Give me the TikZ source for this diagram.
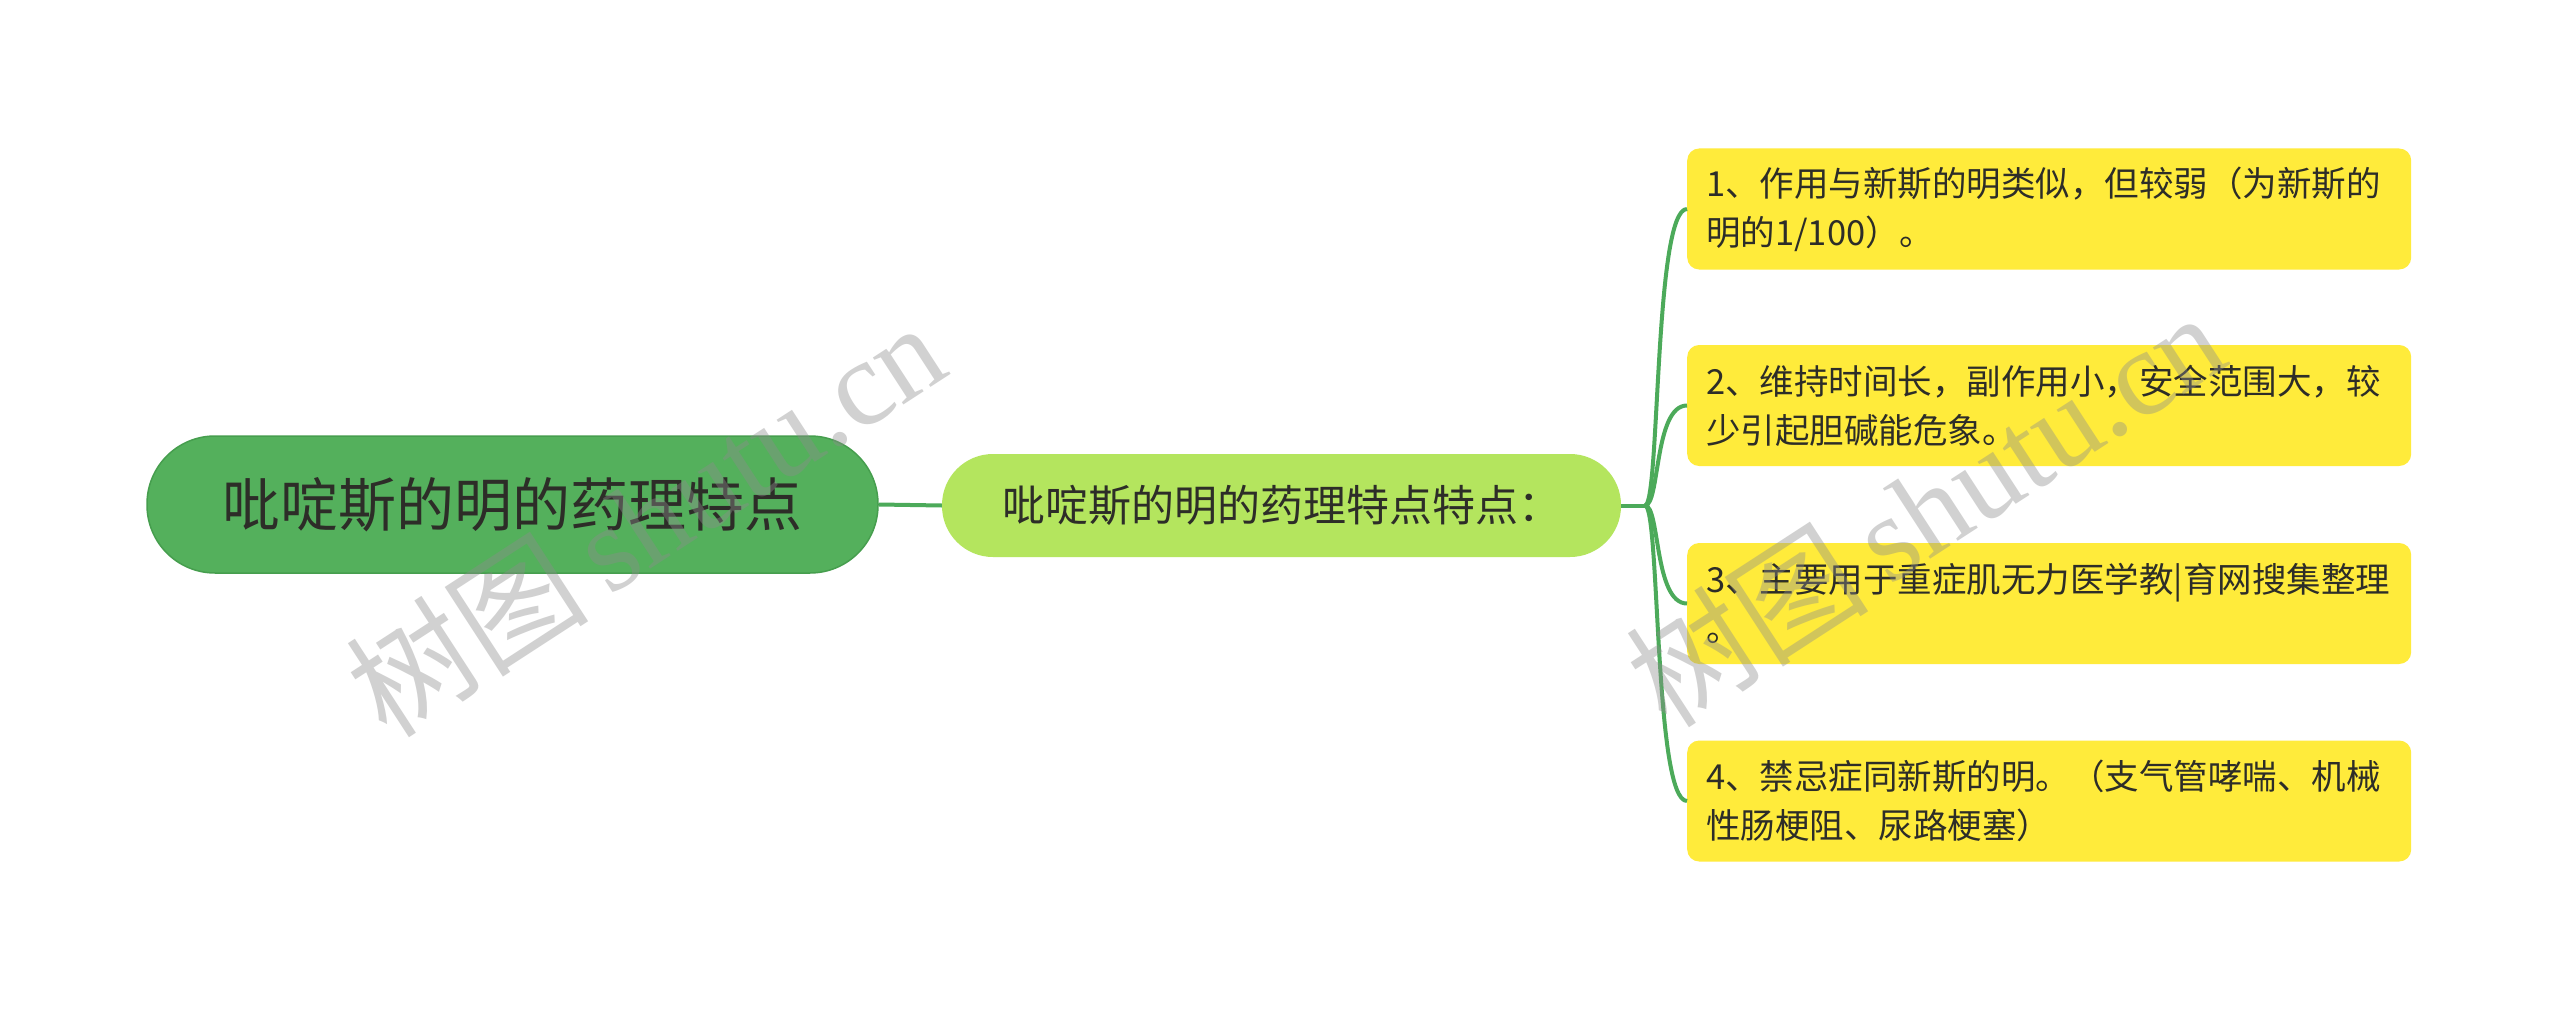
\documentclass[tikz,border=0pt]{standalone}
\usepackage{fontspec}
\newfontfamily\cjk{Noto Sans CJK SC}
\newfontfamily\wmserif{Liberation Serif}
\definecolor{rootfill}{RGB}{84,176,92}
\definecolor{rootdraw}{RGB}{70,158,78}
\definecolor{midfill}{RGB}{180,229,94}
\definecolor{leaffill}{RGB}{255,235,59}
\definecolor{linegreen}{RGB}{76,170,90}
\definecolor{txtdark}{RGB}{45,45,40}
\begin{document}
\begin{tikzpicture}[x=1pt,y=-1pt,
  rootbox/.style={draw=rootdraw,line width=1.5pt,fill=rootfill,rounded corners=68pt,
    minimum width=731pt,minimum height=137pt,inner sep=0pt,
    font=\cjk\fontsize{58}{70}\selectfont,text=txtdark},
  midbox/.style={fill=midfill,rounded corners=51pt,minimum width=679pt,minimum height=103pt,
    inner sep=0pt,font=\cjk\fontsize{43}{52}\selectfont,text=txtdark},
  leafbox/.style={fill=leaffill,rounded corners=12pt,minimum width=724pt,minimum height=121pt,
    text width=686pt,inner xsep=19pt,inner ysep=0pt,align=left,anchor=west,
    font=\cjk\fontsize{34.5}{49}\selectfont,text=txtdark},
  conn/.style={draw=linegreen,line width=4pt},
  wmark/.style={text=black!45,opacity=0.4,rotate=33,font=\fontsize{122}{130}\selectfont}
]
\useasboundingbox (0,0) rectangle (2560,1011);
\fill[white] (0,0) rectangle (2560,1011);

\node[rootbox] (root) at (512.5,504.5) {吡啶斯的明的药理特点};
\node[midbox] (mid) at (1281.5,505.5) {吡啶斯的明的药理特点特点：};

\node[leafbox] (L1) at (1687,209) {1、作用与新斯的明类似，但较弱（为新斯的\\明的1/100）。};
\node[leafbox] (L2) at (1687,405.5) {2、维持时间长，副作用小，安全范围大，较\\少引起胆碱能危象。};
\node[leafbox] (L3) at (1687,603.5) {3、主要用于重症肌无力医学教|育网搜集整理\\。};
\node[leafbox] (L4) at (1687,801) {4、禁忌症同新斯的明。（支气管哮喘、机械\\性肠梗阻、尿路梗塞）};

\coordinate (J) at (1645,505.5);
\draw[conn] (root.east) -- (mid.west);
\draw[conn] (mid.east) -- (J);
\foreach \n in {L1,L2,L3,L4}{
  \draw[conn] (J) .. controls +(15,0) and +(-33,0) .. (\n.west);
}

\node[wmark] (wm1) at (645,518) {\cjk 树图\,\wmserif shutu.cn};
\node[wmark] (wm2) at (1925,508) {\cjk 树图\,\wmserif shutu.cn};
\end{tikzpicture}
\end{document}
